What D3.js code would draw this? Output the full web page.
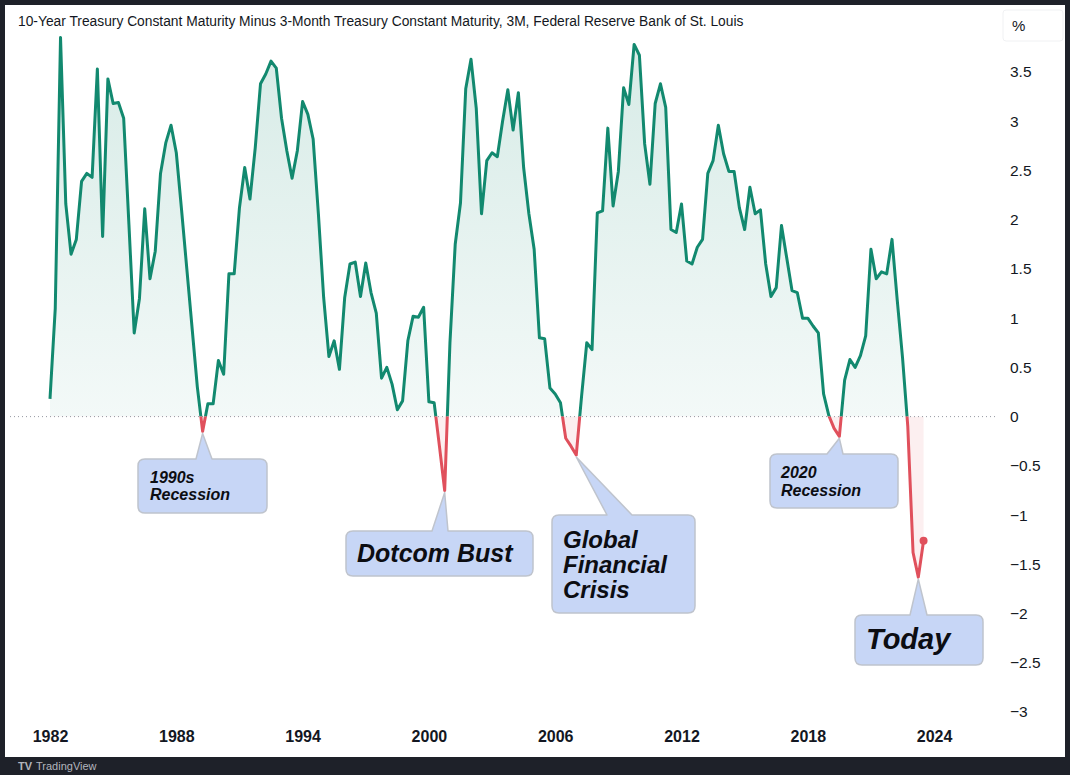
<!DOCTYPE html>
<html>
<head>
<meta charset="utf-8">
<script src="https://cdn.jsdelivr.net/npm/d3@7"></script>
<style>
  html, body { margin: 0; padding: 0; background: #1e2129; }
  svg { display: block; }
</style>
</head>
<body>
<svg id="chart" width="1070" height="775"></svg>
<script>
// 10Y minus 3M treasury spread, quarterly from 1982 Q1
const startYear = 1982
const spread = [
  0.18, 1.1, 3.85, 2.16, 1.65, 1.8, 2.39, 2.47, 2.43, 3.53,
  1.83, 3.43, 3.18, 3.19, 3.03, 1.95, 0.85, 1.2, 2.11, 1.4,
  1.68, 2.47, 2.78, 2.96, 2.68, 2.1, 1.5, 0.9, 0.3, -0.15,
  0.13, 0.13, 0.57, 0.43, 1.45, 1.45, 2.12, 2.53, 2.21, 2.73,
  3.38, 3.48, 3.61, 3.54, 3.03, 2.7, 2.42, 2.7, 3.2, 3.07,
  2.82, 2.06, 1.21, 0.61, 0.77, 0.48, 1.21, 1.55, 1.57, 1.22,
  1.56, 1.26, 1.05, 0.39, 0.5, 0.33, 0.07, 0.16, 0.77, 1.02,
  1.01, 1.11, 0.15, 0.14, -0.3, -0.75, 0.75, 1.75, 2.17, 3.33,
  3.63, 3.13, 2.06, 2.6, 2.68, 2.64, 3.0, 3.32, 2.91, 3.29,
  2.53, 2.06, 1.7, 0.8, 0.79, 0.29, 0.23, 0.14, -0.22, -0.3,
  -0.39, 0.2, 0.75, 0.68, 2.07, 2.09, 2.93, 2.14, 2.49, 3.34,
  3.17, 3.78, 3.67, 2.77, 2.36, 3.18, 3.38, 3.14, 1.9, 1.87,
  2.16, 1.58, 1.55, 1.72, 1.8, 2.47, 2.6, 2.96, 2.67, 2.49,
  2.49, 2.12, 1.9, 2.33, 2.06, 2.1, 1.55, 1.22, 1.31, 1.94,
  1.61, 1.28, 1.26, 1.0, 1.0, 0.92, 0.85, 0.23, 0.01, -0.12,
  -0.2, 0.37, 0.58, 0.5, 0.62, 0.82, 1.7, 1.4, 1.47, 1.45,
  1.8, 1.18, 0.6, -0.1, -1.38, -1.63, -1.26
]

const yTicks = [-3, -2.5, -2, -1.5, -1, -0.5, 0, 0.5, 1, 1.5, 2, 2.5, 3, 3.5]
const xTicks = [1982, 1988, 1994, 2000, 2006, 2012, 2018, 2024]

const calloutText = [
  ["1990s", "Recession"],
  ["Dotcom Bust"],
  ["Global", "Financial", "Crisis"],
  ["2020", "Recession"],
  ["Today"]
]
const calloutDates = [1989.25, 2000.75, 2007.0, 2019.5, 2023.25]

const title = "10-Year Treasury Constant Maturity Minus 3-Month Treasury Constant Maturity, 3M, Federal Reserve Bank of St. Louis"

const points = spread.map((v, i) => ({ date: startYear + i / 4, value: v }))

const width = 1070
const height = 775
const green = "#12896f"
const red = "#e0505c"

const x = d3.scaleLinear().domain([1982, 2024]).range([50, 934.1])
const y = d3.scaleLinear().domain([-3, 3.5]).range([712, 72])

const svg = d3.select("#chart")

// white chart panel on dark frame
svg.append("rect")
  .attr("x", 5).attr("y", 5)
  .attr("width", 1060).attr("height", 752)
  .attr("fill", "#fff")

const defs = svg.append("defs")
const grad = defs.append("linearGradient")
  .attr("id", "greenFill")
  .attr("gradientUnits", "userSpaceOnUse")
  .attr("x1", 0).attr("x2", 0)
  .attr("y1", y(d3.max(spread))).attr("y2", y(0))
grad.append("stop").attr("offset", "0%").attr("stop-color", green).attr("stop-opacity", 0.17)
grad.append("stop").attr("offset", "100%").attr("stop-color", green).attr("stop-opacity", 0.05)

defs.append("clipPath").attr("id", "above")
  .append("rect").attr("x", 0).attr("y", 0).attr("width", width).attr("height", y(0))
defs.append("clipPath").attr("id", "below")
  .append("rect").attr("x", 0).attr("y", y(0)).attr("width", width).attr("height", height - y(0))

// title
svg.append("text")
  .attr("x", 18).attr("y", 26)
  .attr("font-family", "Liberation Sans, Arial, sans-serif")
  .attr("font-size", "13.8px")
  .attr("fill", "#131722")
  .text(title)

// unit box
svg.append("rect")
  .attr("x", 1003).attr("y", 10)
  .attr("width", 60).attr("height", 31)
  .attr("rx", 3)
  .attr("fill", "#fff")
  .attr("stroke", "#f0f1f3")
svg.append("text")
  .attr("x", 1012).attr("y", 31)
  .attr("font-family", "Liberation Sans, Arial, sans-serif")
  .attr("font-size", "15px")
  .attr("fill", "#131722")
  .text("%")

// zero line
svg.append("line")
  .attr("x1", 10).attr("x2", 996)
  .attr("y1", y(0)).attr("y2", y(0))
  .attr("stroke", "#9598a1")
  .attr("stroke-width", 1)
  .attr("stroke-dasharray", "1,3")

const area = d3.area()
  .x((d) => x(d.date))
  .y0(y(0))
  .y1((d) => y(d.value))
const line = d3.line()
  .x((d) => x(d.date))
  .y((d) => y(d.value))

svg.append("path")
  .datum(points)
  .attr("clip-path", "url(#above)")
  .attr("d", area)
  .attr("fill", "url(#greenFill)")
svg.append("path")
  .datum(points)
  .attr("clip-path", "url(#below)")
  .attr("d", area)
  .attr("fill", red)
  .attr("fill-opacity", 0.09)

svg.append("path")
  .datum(points)
  .attr("clip-path", "url(#above)")
  .attr("d", line)
  .attr("fill", "none")
  .attr("stroke", green)
  .attr("stroke-width", 3)
  .attr("stroke-linejoin", "round")
svg.append("path")
  .datum(points)
  .attr("clip-path", "url(#below)")
  .attr("d", line)
  .attr("fill", "none")
  .attr("stroke", red)
  .attr("stroke-width", 3)
  .attr("stroke-linejoin", "round")

const last = points[points.length - 1]
svg.append("circle")
  .attr("cx", x(last.date)).attr("cy", y(last.value))
  .attr("r", 4)
  .attr("fill", red)

// right axis
const yAxis = svg.append("g")
  .attr("transform", "translate(1003,0)")
  .call(d3.axisRight(y).tickValues(yTicks).tickSize(0).tickPadding(7).tickFormat(d3.format("~g")))
yAxis.select(".domain").remove()
yAxis.selectAll("text")
  .attr("font-family", "Liberation Sans, Arial, sans-serif")
  .attr("font-size", "15.5px")
  .attr("fill", "#131722")

// bottom axis
const xAxis = svg.append("g")
  .attr("transform", "translate(0,726)")
  .call(d3.axisBottom(x).tickValues(xTicks).tickSize(0).tickPadding(5).tickFormat(d3.format("d")))
xAxis.select(".domain").remove()
xAxis.selectAll("text")
  .attr("font-family", "Liberation Sans, Arial, sans-serif")
  .attr("font-size", "16px")
  .attr("font-weight", "bold")
  .attr("fill", "#131722")

// callout layout: box [x0, y0, x1, y1], pointer base [bx0, bx1], text x, first baseline, line step, size
const calloutLayout = [
  { box: [138, 459, 267, 513], base: [196, 212], tx: 150, ty: 483, step: 17, size: 16 },
  { box: [346, 531, 533, 576], base: [432, 448], tx: 357, ty: 562, step: 0, size: 25 },
  { box: [552, 515, 695, 613], base: [607, 632], tx: 563, ty: 548, step: 25, size: 24 },
  { box: [770, 454, 898, 508], base: [827, 843], tx: 781, ty: 478, step: 18, size: 16 },
  { box: [855, 615, 983, 665], base: [910, 927], tx: 866, ty: 649, step: 0, size: 29 }
]

function calloutPath(b, base, ax, ay) {
  const [x0, y0, x1, y1] = b
  const r = 7
  const p = d3.path()
  p.moveTo(x0 + r, y0)
  p.lineTo(base[0], y0)
  p.lineTo(ax, ay)
  p.lineTo(base[1], y0)
  p.lineTo(x1 - r, y0)
  p.quadraticCurveTo(x1, y0, x1, y0 + r)
  p.lineTo(x1, y1 - r)
  p.quadraticCurveTo(x1, y1, x1 - r, y1)
  p.lineTo(x0 + r, y1)
  p.quadraticCurveTo(x0, y1, x0, y1 - r)
  p.lineTo(x0, y0 + r)
  p.quadraticCurveTo(x0, y0, x0 + r, y0)
  p.closePath()
  return p.toString()
}

calloutText.forEach((lines, i) => {
  const pt = points.find((d) => Math.abs(d.date - calloutDates[i]) < 0.01)
  const L = calloutLayout[i]
  const g = svg.append("g")
  g.append("path")
    .attr("d", calloutPath(L.box, L.base, x(pt.date), y(pt.value) + 2))
    .attr("fill", "#c7d6f6")
    .attr("stroke", "#bfc4cd")
    .attr("stroke-width", 1.5)
    .attr("stroke-linejoin", "round")
  lines.forEach((t, j) => {
    g.append("text")
      .attr("x", L.tx)
      .attr("y", L.ty + j * L.step)
      .attr("font-family", "Liberation Sans, Arial, sans-serif")
      .attr("font-size", L.size + "px")
      .attr("font-weight", "bold")
      .attr("font-style", "italic")
      .attr("fill", "#0c0d12")
      .text(t)
  })
})

// footer brand in the dark strip under the panel
svg.append("text")
  .attr("x", 18).attr("y", 770)
  .attr("font-family", "Liberation Sans, Arial, sans-serif")
  .attr("font-size", "11px")
  .attr("font-weight", "bold")
  .attr("fill", "#b2b5be")
  .text("TV")
svg.append("text")
  .attr("x", 36).attr("y", 770)
  .attr("font-family", "Liberation Sans, Arial, sans-serif")
  .attr("font-size", "11px")
  .attr("fill", "#b2b5be")
  .text("TradingView")
</script>
</body>
</html>
